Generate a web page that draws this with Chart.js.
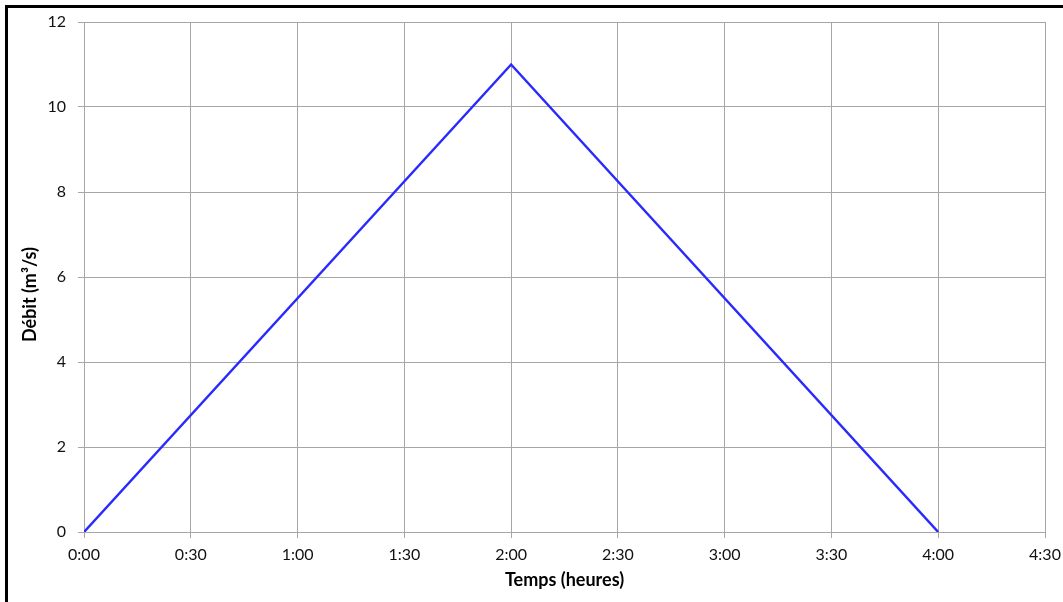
<!DOCTYPE html>
<html>
<head>
<meta charset="utf-8">
<script src="https://cdn.jsdelivr.net/npm/chart.js@4/dist/chart.umd.min.js"></script>
<style>
  body { margin: 0; background: #fff; }
  canvas { display: block; }
</style>
</head>
<body>
<canvas id="hydro" width="1063" height="602"></canvas>
<script>
// temps en minutes depuis 0:00, débit en m3/s
const tempsMin = [0, 120, 240];
const debit = [0, 11, 0];
const xTitre = 'Temps (heures)';
const yTitre = 'Débit (m³/s)';

const gris = '#a6a6a6';
const police = 'Lato, "Open Sans", sans-serif';

function fmtHeure(v) {
    const h = Math.floor(v / 60);
    const m = v % 60;
    return h + ':' + String(m).padStart(2, '0');
}

// cadre noir en haut et à gauche
const cadre = {
    id: 'cadre',
    beforeDraw(chart) {
        const ctx = chart.ctx;
        ctx.save();
        ctx.fillStyle = '#fff';
        ctx.fillRect(0, 0, chart.width, chart.height);
        ctx.fillStyle = '#000';
        ctx.fillRect(5, 5, chart.width - 5, 3);
        ctx.fillRect(5, 5, 3, chart.height - 5);
        ctx.restore();
    }
};

new Chart(document.getElementById('hydro').getContext('2d'), {
    type: 'line',
    data: {
        datasets: [{
            data: tempsMin.map((t, i) => ({ x: t, y: debit[i] })),
            borderColor: '#2a2aff',
            borderWidth: 2.5,
            pointRadius: 0,
            tension: 0,
            fill: false
        }]
    },
    options: {
        responsive: false,
        animation: false,
        layout: { padding: { left: 14, top: 22, right: 18, bottom: 0 } },
        plugins: { legend: { display: false }, tooltip: { enabled: false } },
        scales: {
            x: {
                type: 'linear',
                min: 0,
                max: 270,
                afterFit(s) { s.height = 70; s.paddingLeft = 0; s.paddingRight = 0; },
                grid: { color: gris, lineWidth: 1, tickLength: 6 },
                border: { color: gris },
                ticks: {
                    stepSize: 30,
                    padding: 7,
                    maxRotation: 0,
                    color: '#111',
                    font: { family: police, size: 16 },
                    callback: v => fmtHeure(v)
                },
                title: {
                    display: true,
                    text: xTitre,
                    color: '#000',
                    font: { family: police, size: 18, weight: 'bold' },
                    padding: { top: 0, bottom: 11 }
                }
            },
            y: {
                min: 0,
                max: 12,
                afterFit(s) { s.width = 70; s.paddingTop = 0; s.paddingBottom = 0; },
                grid: { color: gris, lineWidth: 1, tickLength: 6 },
                border: { color: gris },
                ticks: {
                    stepSize: 2,
                    padding: 12,
                    color: '#111',
                    font: { family: police, size: 16 }
                },
                title: {
                    display: true,
                    text: yTitre + '\u00a0\u00a0\u00a0\u00a0\u00a0\u00a0\u00a0\u00a0',
                    color: '#000',
                    font: { family: police, size: 18, weight: 'bold' },
                    padding: { top: 5, bottom: 0 }
                }
            }
        }
    },
    plugins: [cadre]
});
</script>
</body>
</html>
